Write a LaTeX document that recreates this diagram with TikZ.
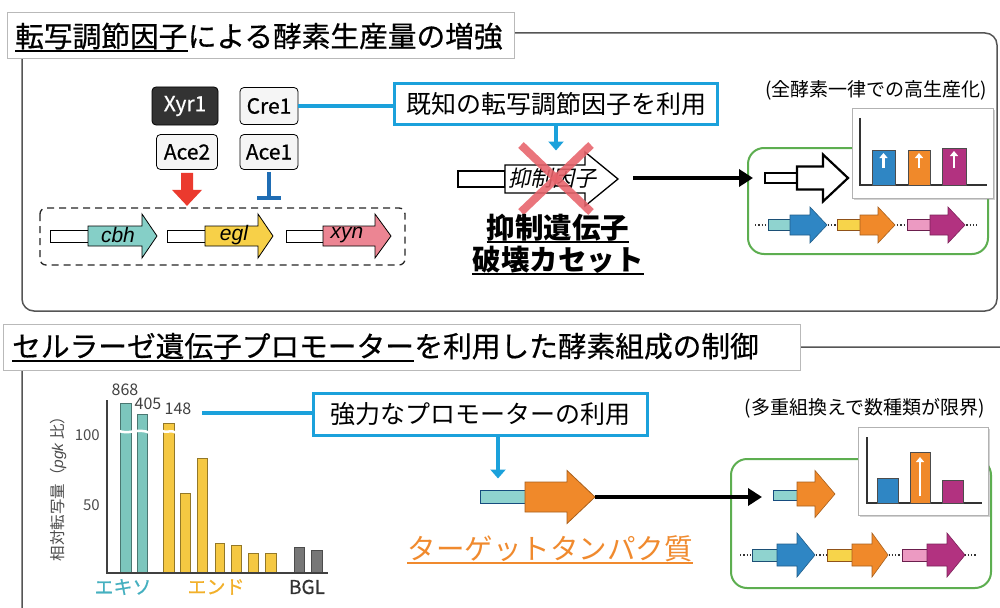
\documentclass[tikz,border=0pt]{standalone}
\usepackage{fontspec}
\newfontfamily\jp{Noto Sans CJK JP}
\newfontfamily\jpm[FakeBold=0.6]{Noto Sans CJK JP}
\newfontfamily\jpsl[FakeSlant=0.22]{Noto Sans CJK JP}
\newfontfamily\ls{Liberation Sans}
\usetikzlibrary{arrows.meta,shadows}
\newcommand\fs[1]{\fontsize{#1}{#1}\selectfont}
\definecolor{callblue}{HTML}{1BA1DB}
\definecolor{tealc}{HTML}{85CFC7}
\definecolor{yelc}{HTML}{F7D048}
\definecolor{pinkc}{HTML}{EC8593}
\definecolor{gboxc}{HTML}{5DAE50}
\definecolor{bblue}{HTML}{2F86C4}
\definecolor{borange}{HTML}{F0892A}
\definecolor{bmag}{HTML}{B23280}
\definecolor{redx}{HTML}{E8636B}
\definecolor{redarr}{HTML}{EB3A2E}
\definecolor{tblue}{HTML}{1F6DB4}
\definecolor{framec}{HTML}{555555}
\definecolor{chteal}{HTML}{7CC6BD}
\definecolor{chyel}{HTML}{F5C842}
\definecolor{chgray}{HTML}{777777}
\definecolor{exoc}{HTML}{45B0C0}
\definecolor{endoc}{HTML}{F2B02A}
\definecolor{tgtc}{HTML}{F08A2E}
\definecolor{promteal}{HTML}{8FD3CF}
\definecolor{promyel}{HTML}{F7D44A}
\definecolor{prompink}{HTML}{EC9AC2}
% promoter: x0,x1,yc,half height,style
\newcommand\promo[5]{\draw[#5] (#1,#3-#4) rectangle (#2,#3+#4);}
% arrow: body start, head base, tip, yc, body half, head half, style
\newcommand\garrow[7]{\draw[#7] (#1,#4-#5) -- (#2,#4-#5) -- (#2,#4-#6) -- (#3,#4) -- (#2,#4+#6) -- (#2,#4+#5) -- (#1,#4+#5) -- cycle;}
\tikzset{
  tbox/.style={draw=gray!55, fill=white, line width=0.8, inner sep=0, anchor=north west},
  ttext/.style={anchor=base west, inner sep=0, font=\jpm\fs{28.7}},
  regbox/.style={draw=black, line width=0.8, rounded corners=4, fill=gray!8, inner sep=0, font=\jpm\fs{21}},
  callout/.style={draw=callblue, line width=3, fill=white, inner sep=0, font=\jp\fs{25}},
  callline/.style={callblue, line width=4},
  gfr/.style={draw=gboxc, line width=2, rounded corners=16},
  inset/.style={draw=gray!60, fill=white, line width=0.8, drop shadow={shadow xshift=2pt, shadow yshift=-2pt, opacity=0.35}},
  bigarrow/.style={line width=4, -{Triangle[length=14pt,width=17pt]}},
  wup/.style={white, line width=2.5, -{Triangle[length=5pt,width=8pt]}},
  genelab/.style={inner sep=0, font=\ls\itshape\fs{21}},
}
\begin{document}
\begin{tikzpicture}[x=1pt,y=-1pt]
\useasboundingbox (0,0) rectangle (1000,607);
\fill[white] (0,0) rectangle (1000,607);

% ---------------- panel 1 frame and title
\draw[framec, line width=1.5, rounded corners=12] (22,33) rectangle (997,311);
\node[tbox, minimum width=507, minimum height=46] (tb1) at (7,12) {};
\node[ttext] (t1a) at (15,47) {転写調節因子};
\node[ttext] (t1b) at (t1a.base east) {による酵素生産量の増強};
\draw[line width=1.8] ([yshift=-4]t1a.base west) -- ([yshift=-4]t1a.base east);

% regulators
\node[regbox, fill=black!80, text=white, minimum width=66, minimum height=38] (xyr) at (185,106) {Xyr1};
\node[regbox, minimum width=58, minimum height=37] (cre) at (269,106) {Cre1};
\node[regbox, minimum width=61, minimum height=35] (ace2) at (187,152) {Ace2};
\node[regbox, minimum width=58, minimum height=35] (ace1) at (269,152) {Ace1};
\fill[redarr] ([shift={(-6,3)}]ace2.south) -- ++(12,0) -- ++(0,17) -- ++(9,0) -- ++(-15,16) -- ++(-15,-16) -- ++(9,0) -- cycle;
\draw[tblue, line width=4] ([yshift=-2]ace1.south) -- ++(0,26) coordinate (tb);
\draw[tblue, line width=4] ([xshift=-12]tb) -- ([xshift=12]tb);

% gene cluster
\draw[dash pattern=on 7pt off 5pt, gray!30!black, line width=1.3, rounded corners=6] (40,208) rectangle (405,265);
\promo{50}{88}{236}{6}{fill=white, draw=black, line width=1}
\garrow{88}{142}{157}{236}{10}{22}{fill=tealc, draw=black, line width=0.8}
\node[genelab] (cbh) at (118,235) {cbh};
\promo{167}{205}{236}{6}{fill=white, draw=black, line width=1}
\garrow{205}{258}{273}{236}{10}{22}{fill=yelc, draw=black, line width=0.8}
\node[genelab] (egl) at (234,235) {egl};
\promo{286}{323}{236}{6}{fill=white, draw=black, line width=1}
\garrow{323}{375}{391}{236}{10}{22}{fill=pinkc, draw=black, line width=0.8}
\node[genelab] (xyn) at (347,235) {xyn};

% callout 1
\node[callout, minimum width=323, minimum height=40] (call1) at (556,104) {既知の転写調節因子を利用};
\draw[callline] (cre.east) -- (cre.east -| call1.west);
\draw[callline, -{Triangle[length=9pt,width=15pt]}] (call1.south) -- ++(0,25);

% repressor gene
\promo{458}{505}{179}{8}{fill=white, draw=black, line width=1.3}
\garrow{505}{585}{618}{179}{14}{27}{fill=white, draw=black, line width=1.3}
\node[inner sep=0, font=\jpsl\fs{22}] (rep) at (552,178) {抑制因子};
\draw[redx, opacity=0.88, line width=8] (521,145) -- (591,212);
\draw[redx, opacity=0.88, line width=8] (591,145) -- (521,212);
\coordinate (rtip) at (633,178);
\node[ttext, font=\jp\bfseries\fs{28.5}, anchor=base] (rl1) at (558,238) {抑制遺伝子};
\node[ttext, font=\jp\bfseries\fs{28.5}, anchor=base] (rl2) at (558,270) {破壊カセット};
\draw[line width=1.6] ([yshift=-4]rl1.base west) -- ([yshift=-4]rl1.base east);
\draw[line width=1.6] ([yshift=-4]rl2.base west) -- ([yshift=-4]rl2.base east);

% result box 1
\node[inner sep=0, font=\jp\fs{19}] (note1) at (876,90) {(全酵素一律での高生産化)};
\node[gfr, minimum width=240, minimum height=106, anchor=north west] (g1) at (747,147) {};
\draw[bigarrow] (rtip) -- ([xshift=6]g1.west |- rtip);
\promo{765}{797}{178}{5}{fill=white, draw=black, line width=2}
\garrow{797}{823}{848}{178}{11.5}{23.5}{fill=white, draw=black, line width=2.2}
\draw[dotted, line width=1.3, gray!40!black] (755,225) -- (977,225);
\promo{768}{790}{225}{5.5}{fill=promteal, draw=bblue!60!black, line width=0.8}
\garrow{790}{810}{827}{225}{10}{18}{fill=bblue, draw=bblue!70!black, line width=0.6}
\promo{837}{860}{225}{5.5}{fill=promyel, draw=borange!60!black, line width=0.8}
\garrow{860}{878}{895}{225}{10}{18}{fill=borange, draw=borange!70!black, line width=0.6}
\promo{907}{930}{225}{5.5}{fill=prompink, draw=bmag!60!black, line width=0.8}
\garrow{930}{948}{965}{225}{10}{18}{fill=bmag, draw=bmag!70!black, line width=0.6}
\node[inset, minimum width=141, minimum height=90, anchor=north west, inner sep=0] (in1) at (852,108) {};
\draw[line width=1.3, black!80] (860,118) -- (860,185) -- (987,185);
\draw[fill=bblue, draw=black!70, line width=0.8] (872,185) rectangle (895,150);
\draw[fill=borange, draw=black!70, line width=0.8] (908,185) rectangle (930,150);
\draw[fill=bmag, draw=black!70, line width=0.8] (942,185) rectangle (966,148);
\draw[wup] (883.5,168) -- (883.5,153);
\draw[wup] (919,168) -- (919,153);
\draw[wup] (954,168) -- (954,151);

% ---------------- panel 2 frame and title
\draw[framec, line width=1.5, rounded corners=12] (22,640) -- (22,347) -- (1010,347);
\node[tbox, minimum width=797, minimum height=46] (tb2) at (3,324) {};
\node[ttext] (t2a) at (12,357) {セルラーゼ遺伝子プロモーター};
\node[ttext] (t2b) at (t2a.base east) {を利用した酵素組成の制御};
\draw[line width=1.8] ([yshift=-4]t2a.base west) -- ([yshift=-4]t2a.base east);

% chart
\draw[chteal!60!black, fill=chteal, line width=0.8] (120,573) rectangle (131,403);
\draw[chteal!60!black, fill=chteal, line width=0.8] (137,573) rectangle (147,414);
\draw[chyel!60!black, fill=chyel, line width=0.8] (163,573) rectangle (174,423);
\draw[chyel!60!black, fill=chyel, line width=0.8] (180,573) rectangle (190,493);
\draw[chyel!60!black, fill=chyel, line width=0.8] (197,573) rectangle (207,458);
\draw[chyel!60!black, fill=chyel, line width=0.8] (215,573) rectangle (224,543);
\draw[chyel!60!black, fill=chyel, line width=0.8] (231,573) rectangle (241,545);
\draw[chyel!60!black, fill=chyel, line width=0.8] (248,573) rectangle (258,553);
\draw[chyel!60!black, fill=chyel, line width=0.8] (265,573) rectangle (276,553);
\draw[black!70, fill=chgray, line width=0.8] (294,573) rectangle (304,547);
\draw[black!70, fill=chgray, line width=0.8] (311,573) rectangle (322,550);
\draw[white, line width=2.5] (117,430) .. controls (128,436) and (138,427) .. (150,433);
\draw[white, line width=2.5] (160,430) .. controls (166,434) and (171,429) .. (177,433);
\draw[line width=1.3, black!75] (107,400) -- (107,573) -- (328,573);
\node[anchor=east, inner sep=0, font=\jp\fs{15}, text=black!70] (y100) at (100,435) {100};
\node[anchor=east, inner sep=0, font=\jp\fs{15}, text=black!70] (y50) at (100,505) {50};
\node[inner sep=0, font=\jp\fs{16}, text=black!75] (v1) at (125,390) {868};
\node[inner sep=0, font=\jp\fs{16}, text=black!75] (v2) at (148,404) {405};
\node[inner sep=0, font=\jp\fs{16}, text=black!75] (v3) at (178,409) {148};
\node[rotate=90, inner sep=0, font=\jp\fs{15.5}, text=black!70] (ylab) at (58,485) {相対転写量（{\ls\itshape pgk} 比）};
\node[inner sep=0, font=\jpm\fs{19}, text=exoc] (exo) at (123,587) {エキソ};
\node[inner sep=0, font=\jpm\fs{19}, text=endoc] (endo) at (216,587) {エンド};
\node[inner sep=0, font=\jpm\fs{19}, text=black!80] (bgl) at (307,587) {BGL};

% callout 2
\node[callout, minimum width=334, minimum height=42] (call2) at (480,414) {強力なプロモーターの利用};
\coordinate (c2l) at (202,413);
\draw[callline] (c2l) -- (c2l -| call2.west);
\draw[callline, -{Triangle[length=9pt,width=15pt]}] ([xshift=18]call2.south) -- ++(0,42);

% target gene
\promo{480}{525}{497}{6.5}{fill=promteal, draw=tblue!70!black, line width=0.8}
\garrow{525}{567}{595}{497}{15}{26.5}{fill=borange, draw=borange!70!black, line width=0.8}
\coordinate (ttip) at (595,497);
\node[ttext, font=\jp\fs{28.5}, text=tgtc, anchor=base] (tgt) at (550,559) {ターゲットタンパク質};
\draw[tgtc, line width=1.6] ([yshift=-4]tgt.base west) -- ([yshift=-4]tgt.base east);

% result box 2
\node[inner sep=0, font=\jp\fs{19}] (note2) at (865,408) {(多重組換えで数種類が限界)};
\node[gfr, minimum width=260, minimum height=129, anchor=north west] (g2) at (730,458) {};
\draw[bigarrow] (ttip) -- (762,497);
\promo{773}{797}{495}{5}{fill=promteal, draw=tblue!70!black, line width=0.8}
\garrow{797}{815}{835}{494}{12}{23.5}{fill=borange, draw=borange!70!black, line width=0.6}
\draw[dotted, line width=1.3, gray!40!black] (740,555) -- (977,555);
\promo{752}{777}{555}{6}{fill=promteal, draw=bblue!60!black, line width=0.8}
\garrow{777}{797}{815}{555}{11}{22}{fill=bblue, draw=bblue!70!black, line width=0.6}
\promo{827}{852}{555}{6}{fill=promyel, draw=borange!60!black, line width=0.8}
\garrow{852}{872}{888}{555}{11}{22}{fill=borange, draw=borange!70!black, line width=0.6}
\promo{902}{927}{555}{6}{fill=prompink, draw=bmag!60!black, line width=0.8}
\garrow{927}{947}{965}{555}{11}{22}{fill=bmag, draw=bmag!70!black, line width=0.6}
\node[inset, minimum width=130, minimum height=88, anchor=north west, inner sep=0] (in2) at (858,427) {};
\draw[line width=1.3, black!80] (867,437) -- (867,503) -- (982,503);
\draw[fill=bblue, draw=black!70, line width=0.8] (877,503) rectangle (898,478);
\draw[fill=borange, draw=black!70, line width=0.8] (910,503) rectangle (930,452);
\draw[fill=bmag, draw=black!70, line width=0.8] (942,503) rectangle (963,480);
\draw[wup] (920,496) -- (920,457);
\end{tikzpicture}
\end{document}
